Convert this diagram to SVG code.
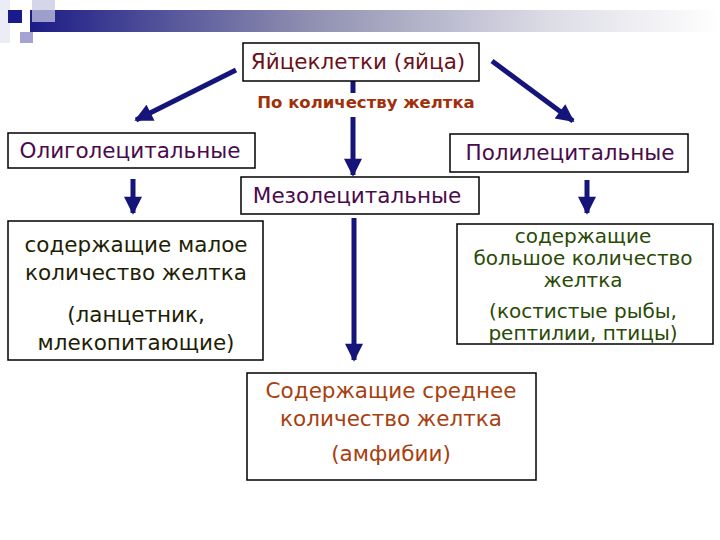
<svg xmlns="http://www.w3.org/2000/svg" width="720" height="540" viewBox="0 0 720 540">
<defs>
<linearGradient id="bar" x1="0" y1="0" x2="1" y2="0">
<stop offset="0" stop-color="#1c1c86"/>
<stop offset="0.4" stop-color="#8e8eb0"/>
<stop offset="0.75" stop-color="#dcdce6"/>
<stop offset="1" stop-color="#ffffff"/>
</linearGradient>
<marker id="ah" viewBox="0 0 10 10" refX="9" refY="5" markerWidth="4" markerHeight="3.6" orient="auto" markerUnits="strokeWidth">
<path d="M0,0 L10,5 L0,10 z" fill="#14147a"/>
</marker>
</defs>
<style>
.box{fill:#ffffff;stroke:#000000;stroke-width:1.5}
.t{font-family:"DejaVu Sans","Liberation Sans",sans-serif;font-size:21.5px;text-anchor:middle}
.r{font-size:20px;fill:#2a4a05}
.ar{stroke:#14147a;stroke-width:5;fill:none}
.ar2{stroke:#14147a;stroke-width:5;fill:none;marker-end:url(#ah)}
</style>
<rect width="720" height="540" fill="#ffffff"/>
<g id="decor">
<rect x="0" y="0" width="10" height="43" fill="#ececf6"/>
<rect x="30" y="10" width="690" height="22" fill="url(#bar)"/>
<rect x="32" y="0" width="23" height="22" fill="#c8c8e4" opacity="0.75"/>
<rect x="8" y="10" width="14" height="13" fill="#1a1a8c"/>
<rect x="20" y="32" width="13" height="11" fill="#a4a4d2"/>
</g>
<g id="connectors">
<line class="ar2" x1="236" y1="70" x2="136" y2="120"/>
<line class="ar2" x1="492" y1="61" x2="573" y2="121"/>
<line class="ar" x1="353" y1="81" x2="353" y2="93"/>
<line class="ar2" x1="353" y1="117" x2="353" y2="175"/>
<line class="ar2" x1="133" y1="179" x2="133" y2="213"/>
<line class="ar2" x1="587" y1="180" x2="587" y2="213"/>
<line class="ar2" x1="354" y1="218" x2="354" y2="360"/>
</g>
<g id="eggs">
<rect class="box" x="243" y="43" width="236" height="38"/>
<text class="t" x="358" y="69" fill="#6b0f1a" font-size="23">Яйцеклетки (яйца)</text>
</g>
<g id="label">
<text x="366" y="108" fill="#a0300a" font-family="DejaVu Sans, Liberation Sans, sans-serif" font-size="16.5" font-weight="bold" text-anchor="middle">По количеству желтка</text>
</g>
<g id="oligo">
<rect class="box" x="8" y="133" width="247" height="35"/>
<text class="t" x="130" y="158" fill="#4b0a4b" font-size="22.5">Олиголецитальные</text>
</g>
<g id="poly">
<rect class="box" x="450" y="134" width="238" height="38"/>
<text class="t" x="570" y="160" fill="#4b0a4b" font-size="22.5">Полилецитальные</text>
</g>
<g id="meso">
<rect class="box" x="241" y="177" width="238" height="37"/>
<text class="t" x="357" y="203" fill="#4b0a4b" font-size="22.5">Мезолецитальные</text>
</g>
<g id="oligo-desc">
<rect class="box" x="8" y="221" width="255" height="139"/>
<text class="t" x="136" y="252" fill="#1e1e05">содержащие малое</text>
<text class="t" x="136" y="280" fill="#1e1e05">количество желтка</text>
<text class="t" x="136" y="322" fill="#1e1e05">(ланцетник,</text>
<text class="t" x="136" y="350" fill="#1e1e05">млекопитающие)</text>
</g>
<g id="poly-desc">
<rect class="box" x="457" y="224" width="256" height="120"/>
<text class="t r" x="583" y="243">содержащие</text>
<text class="t r" x="583" y="265">большое количество</text>
<text class="t r" x="583" y="287">желтка</text>
<text class="t r" x="583" y="318">(костистые рыбы,</text>
<text class="t r" x="583" y="340">рептилии, птицы)</text>
</g>
<g id="meso-desc">
<rect class="box" x="247" y="373" width="289" height="107"/>
<text class="t" x="391" y="398" fill="#a8400f">Содержащие среднее</text>
<text class="t" x="391" y="426" fill="#a8400f">количество желтка</text>
<text class="t" x="391" y="461" fill="#a8400f">(амфибии)</text>
</g>
</svg>
